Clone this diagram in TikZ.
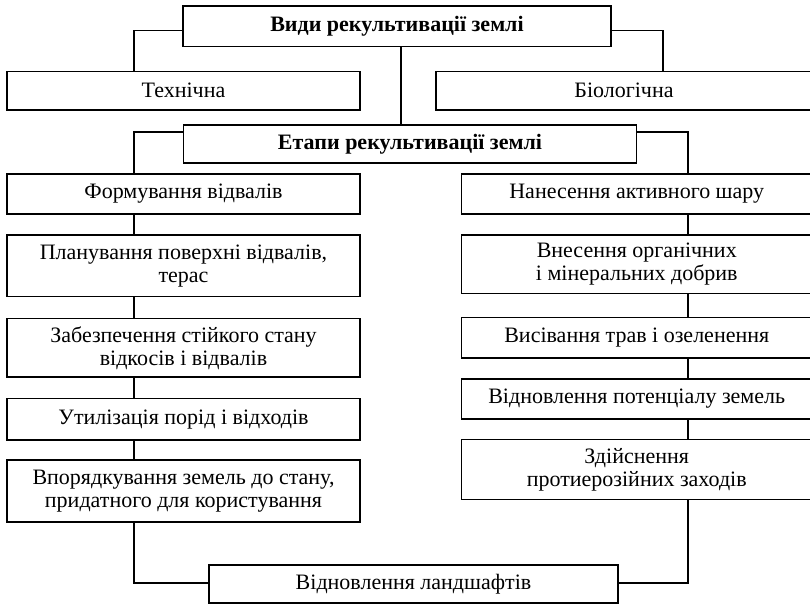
\documentclass[tikz,border=0pt]{standalone}
\usepackage{fontspec}
\setmainfont{Liberation Serif}
\begin{document}
\begin{tikzpicture}[x=1pt,y=-1pt,
  box/.style={draw=black, line width=1.2pt, align=center, inner sep=0pt,
    font=\fontsize{22}{23}\selectfont},
  conn/.style={draw=black, line width=1.2pt}]
\clip (0,0) rectangle (810,604);
\useasboundingbox (0,0) rectangle (810,604);
\coordinate (lx) at (134,0);
\coordinate (rx) at (688,0);
\coordinate (tx) at (663,0);
\coordinate (cx) at (401,0);
% nodes
\node[box, minimum width=428pt, minimum height=40.5pt, font=\fontsize{22}{23}\selectfont\bfseries] (vydy) at (397,26.25) {Види рекультивації землі};
\node[box, minimum width=353pt, minimum height=38.5pt] (tech) at (183.5,90.75) {Технічна};
\node[box, minimum width=376pt, minimum height=38.5pt] (bio) at (624,90.75) {Біологічна};
\node[box, minimum width=453.5pt, minimum height=38pt, font=\fontsize{22}{23}\selectfont\bfseries] (etapy) at (410,144) {Етапи рекультивації землі};
% left column
\node[box, minimum width=353pt, minimum height=40pt] (f1) at (183.5,194) {Формування відвалів};
\node[box, minimum width=353pt, minimum height=61.5pt] (f2) at (183.5,265.75) {Планування поверхні відвалів,\\ терас};
\node[box, minimum width=353pt, minimum height=58.5pt] (f3) at (183.5,347.75) {Забезпечення стійкого стану\\ відкосів і відвалів};
\node[box, minimum width=353pt, minimum height=41.5pt] (f4) at (183.5,419.25) {Утилізація порід і відходів};
\node[box, minimum width=353pt, minimum height=62pt] (f5) at (183.5,491) {Впорядкування земель до стану,\\ придатного для користування};
% right column
\node[box, minimum width=350.5pt, minimum height=40pt] (r1) at (636.75,194) {Нанесення активного шару};
\node[box, minimum width=350.5pt, minimum height=58.5pt] (r2) at (636.75,264.25) {Внесення органічних\\ і мінеральних добрив};
\node[box, minimum width=350.5pt, minimum height=40.5pt] (r3) at (636.75,337.75) {Висівання трав і озеленення};
\node[box, minimum width=350.5pt, minimum height=40pt] (r4) at (636.75,399) {Відновлення потенціалу земель};
\node[box, minimum width=350.5pt, minimum height=60pt] (r5) at (636.75,469.5) {Здійснення\\ протиерозійних заходів};
% bottom
\node[box, minimum width=409pt, minimum height=38pt] (land) at (413.5,584) {Відновлення ландшафтів};
% connectors
\draw[conn] ([yshift=-4.5pt]vydy.west) -| (tech.north -| lx);
\draw[conn] ([yshift=-4.5pt]vydy.east) -| (bio.north -| tx);
\draw[conn] (vydy.south -| cx) -- (etapy.north -| cx);
\draw[conn] ([yshift=12pt]etapy.west) -| (f1.north -| lx);
\draw[conn] ([yshift=12pt]etapy.east) -| (r1.north -| rx);
\draw[conn] (f1.south -| lx) -- (f2.north -| lx);
\draw[conn] (f2.south -| lx) -- (f3.north -| lx);
\draw[conn] (f3.south -| lx) -- (f4.north -| lx);
\draw[conn] (f4.south -| lx) -- (f5.north -| lx);
\draw[conn] (r1.south -| rx) -- (r2.north -| rx);
\draw[conn] (r2.south -| rx) -- (r3.north -| rx);
\draw[conn] (r3.south -| rx) -- (r4.north -| rx);
\draw[conn] (r4.south -| rx) -- (r5.north -| rx);
\draw[conn] (f5.south -| lx) |- ([yshift=1pt]land.west);
\draw[conn] (r5.south -| rx) |- ([yshift=1pt]land.east);
\end{tikzpicture}
\end{document}
